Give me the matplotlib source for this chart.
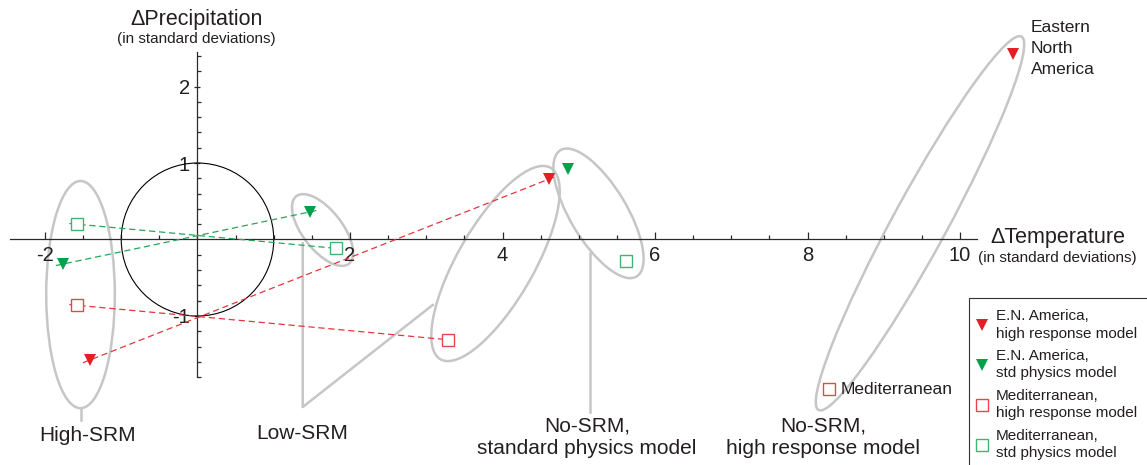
import matplotlib
matplotlib.use('Agg')
import matplotlib.pyplot as plt
from matplotlib.patches import Ellipse
from matplotlib.lines import Line2D
from matplotlib.ticker import FixedLocator
import numpy as np

plt.rcParams['font.family'] = ['Liberation Sans', 'DejaVu Sans']

# scenario order: High-SRM, Low-SRM, No-SRM
en_high_dt = [-1.41, 4.61, 10.69]
en_high_dp = [-1.575, 0.79, 2.43]
en_std_dt = [-1.76, 1.47, 4.855]
en_std_dp = [-0.32, 0.36, 0.92]
med_high_dt = [-1.58, 3.28, 8.28]
med_high_dp = [-0.86, -1.31, -1.96]
med_std_dt = [-1.58, 1.81, 5.62]
med_std_dp = [0.20, -0.115, -0.28]

x_ticks = [-2, 2, 4, 6, 8, 10]
y_ticks = [-1, 1, 2]

RED = '#e31e24'
GREEN = '#00a14b'
RED_SQ = '#e8444c'
GREEN_SQ = '#3fb573'
RED_LINE = '#e5353d'
GREEN_LINE = '#27a55a'
GRAY = '#c6c6c6'
TXT = '#231f20'

series = [
    (en_high_dt, en_high_dp, 'v', RED, RED, RED_LINE, 'E.N. America,\nhigh response model'),
    (en_std_dt, en_std_dp, 'v', GREEN, GREEN, GREEN_LINE, 'E.N. America,\nstd physics model'),
    (med_high_dt, med_high_dp, 's', 'white', RED_SQ, RED_LINE, 'Mediterranean,\nhigh response model'),
    (med_std_dt, med_std_dp, 's', 'white', GREEN_SQ, GREEN_LINE, 'Mediterranean,\nstd physics model'),
]

# group ellipses: center x, center y, width, height, angle
groups = [
    (-1.534, -0.72, 0.90, 2.97, 0),
    (1.64, 0.124, 1.12, 0.52, -52),
    (3.908, -0.314, 2.89, 1.00, 60),
    (5.259, 0.342, 1.93, 0.74, -58.8),
    (9.475, 0.212, 5.56, 0.71, 61.4),
]

fig = plt.figure(figsize=(11.47, 4.65), dpi=100)
ax = fig.add_axes([0, 0, 1, 1])
ax.set_xlim(-2.590, 12.452)
ax.set_ylim(-2.948, 3.131)

# axes through the origin
for side in ['top', 'right']:
    ax.spines[side].set_visible(False)
ax.spines['bottom'].set_position(('data', 0))
ax.spines['left'].set_position(('data', 0))
ax.spines['bottom'].set_bounds(-2.46, 10.22)
ax.spines['left'].set_bounds(-1.8, 2.45)
for side in ['bottom', 'left']:
    ax.spines[side].set_color('#2a2a2a')
    ax.spines[side].set_linewidth(0.9)

ax.set_xticks(x_ticks)
ax.set_xticklabels([str(t) for t in x_ticks])
ax.xaxis.set_minor_locator(FixedLocator(
    [v for v in np.arange(-2, 10.01, 0.5) if v not in x_ticks]))
ax.set_yticks(y_ticks)
ax.set_yticklabels([str(t) for t in y_ticks])
ax.yaxis.set_minor_locator(FixedLocator(
    [v for v in np.round(np.arange(-1.8, 2.41, 0.2), 1) if v not in y_ticks and v != 0]))
ax.tick_params(axis='x', which='major', direction='in', length=4.8, width=0.9,
               color='#2a2a2a', labelsize=14.5, labelcolor=TXT, pad=5)
ax.tick_params(axis='x', which='minor', direction='in', length=3, width=0.9, color='#2a2a2a')
ax.tick_params(axis='y', which='major', direction='inout', length=5, width=0.9,
               color='#2a2a2a', labelsize=14.5, labelcolor=TXT, pad=3)
ax.tick_params(axis='y', which='minor', direction='in', length=3, width=0.9, color='#2a2a2a')

# unit circle
ax.add_patch(Ellipse((0, 0), 2, 2, fill=False, ec='black', lw=0.8, zorder=2))

# group ellipses
for cx, cy, w, h, ang in groups:
    ax.add_patch(Ellipse((cx, cy), w, h, angle=ang, fill=False, ec=GRAY, lw=1.8, zorder=1))

# callout lines
ax.plot([-1.534, -1.534], [-2.22, -2.36], color=GRAY, lw=1.8, zorder=1)
ax.plot([1.38, 1.38, 3.085], [-0.05, -2.19, -0.856], color=GRAY, lw=1.8, zorder=1)
ax.plot([5.148, 5.148], [-0.18, -2.255], color=GRAY, lw=1.8, zorder=1)

# dashed connectors between High-SRM and Low-SRM
for xs, ys, mk, fc, ec, lc, lab in series:
    p0 = np.array([xs[0], ys[0]])
    p1 = np.array([xs[1], ys[1]])
    d = (p1 - p0) / np.linalg.norm(p1 - p0)
    a = p0 - 0.1 * d
    b = p1 + 0.1 * d
    ax.plot([a[0], b[0]], [a[1], b[1]], color=lc, lw=0.9, dashes=(5, 3), zorder=3)

for xs, ys, mk, fc, ec, lc, lab in series:
    ax.plot(xs, ys, linestyle='none', marker=mk, ms=8, mfc=fc, mec=ec,
            mew=1.0 if mk == 's' else 0, zorder=4)

# axis titles
ax.text(-0.01, 2.882, '\u0394Precipitation', ha='center', va='center', fontsize=15.5, color=TXT)
ax.text(-0.01, 2.617, '(in standard deviations)', ha='center', va='center', fontsize=11, color=TXT)
ax.text(10.393, 0.03, '\u0394Temperature', ha='left', va='center', fontsize=15.5, color=TXT)
ax.text(10.236, -0.24, '(in standard deviations)', ha='left', va='center', fontsize=11, color=TXT)

# group labels
ax.text(-1.443, -2.556, 'High-SRM', ha='center', va='center', fontsize=15, color=TXT)
ax.text(1.367, -2.53, 'Low-SRM', ha='center', va='center', fontsize=15, color=TXT)
ax.text(5.108, -2.588, 'No-SRM,\nstandard physics model', ha='center', va='center',
        fontsize=15, color=TXT, linespacing=1.25)
ax.text(8.203, -2.588, 'No-SRM,\nhigh response model', ha='center', va='center',
        fontsize=15, color=TXT, linespacing=1.25)
ax.text(8.435, -1.967, 'Mediterranean', ha='left', va='center', fontsize=12.5, color=TXT)
ax.text(10.927, 2.499, 'Eastern\nNorth\nAmerica', ha='left', va='center', fontsize=12.5,
        color=TXT, linespacing=1.48)

handles = []
for xs, ys, mk, fc, ec, lc, lab in series:
    handles.append(Line2D([], [], linestyle='none', marker=mk, ms=8, mfc=fc, mec=ec,
                          mew=1.0 if mk == 's' else 0, label=lab))
leg = ax.legend(handles=handles, loc='upper left', bbox_to_anchor=(969 / 1147, 1 - 298 / 465),
                bbox_transform=fig.transFigure, borderaxespad=0, fontsize=11,
                handlelength=0.26, handletextpad=0.8, borderpad=0.7, labelspacing=0.53,
                fancybox=False, framealpha=1, edgecolor='#333333')
leg.get_frame().set_linewidth(0.8)
for t in leg.get_texts():
    t.set_color(TXT)
    t.set_linespacing(1.35)

fig.savefig('out.png', dpi=100)
